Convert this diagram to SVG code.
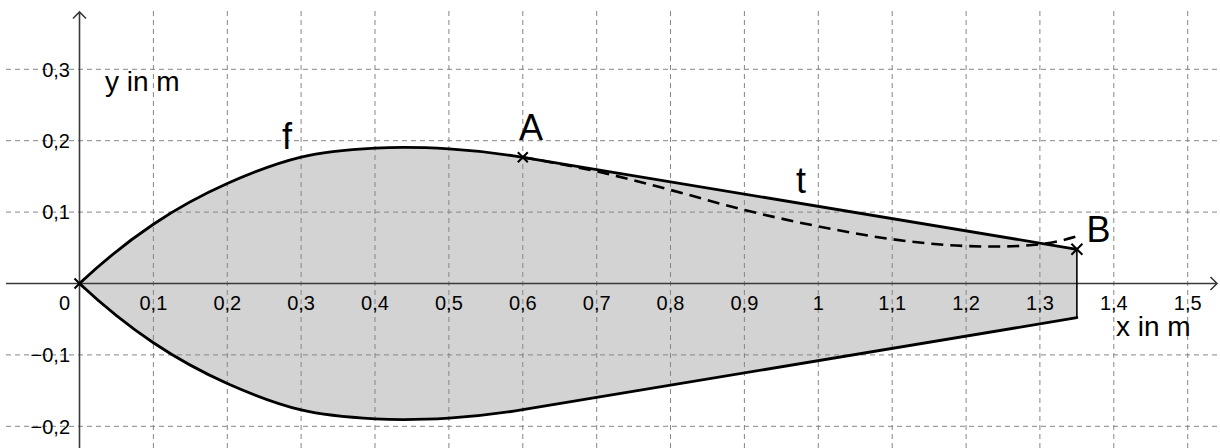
<svg xmlns="http://www.w3.org/2000/svg" width="1220" height="448" viewBox="0 0 1220 448">
<style>
.grid{stroke:#858585;stroke-width:1;stroke-dasharray:5 4;fill:none}
.axis{stroke:#3a3a3a;stroke-width:1.6;fill:none}
.curve{stroke:#000;stroke-width:2.8;fill:none;stroke-linejoin:round;stroke-linecap:round}
.dash{stroke:#000;stroke-width:2.6;fill:none;stroke-dasharray:12 7}
.mark{stroke:#000;stroke-width:2;fill:none}
.tick{font-family:"Liberation Sans",Arial,sans-serif;font-size:20px;fill:#000}
.unit{font-family:"Liberation Sans",Arial,sans-serif;font-size:28px;fill:#000}
.big{font-family:"Liberation Sans",Arial,sans-serif;font-size:36px;fill:#000}
</style>
<rect width="1220" height="448" fill="#fff"/>
<g id="region">
<path fill="#d3d3d3" stroke="none" d="M79.5,283.5 C104.13,260.41 128.75,240.73 153.38,224.24 C178.01,207.75 202.63,194.49 227.26,183.54 C251.89,172.59 276.51,163.01 301.14,157.12 C325.77,151.23 350.39,149.57 375.02,148.2 C399.65,146.83 424.27,147.42 448.9,148.91 C473.53,150.4 498.15,153.26 522.78,157.34 L1076.88,249.3 L1076.88,317.7 L522.78,409.66 C498.15,413.74 473.53,416.6 448.9,418.09 C424.27,419.58 399.65,420.17 375.02,418.8 C350.39,417.43 325.77,415.77 301.14,409.88 C276.51,403.99 251.89,394.41 227.26,383.46 C202.63,372.51 178.01,359.25 153.38,342.76 C128.75,326.27 104.13,306.59 79.5,283.5 Z"/>
</g>
<g id="grid" class="grid">
<path d="M153.4,11V448M227.3,11V448M301.1,11V448M375,11V448M448.9,11V448M522.8,11V448M596.7,11V448M670.5,11V448M744.4,11V448M818.3,11V448M892.2,11V448M966.1,11V448M1039.9,11V448M1113.8,11V448M1187.7,11V448"/>
<path d="M6,69.3H1220M6,140.7H1220M6,212.1H1220M6,354.9H1220M6,426.3H1220"/>
</g>
<g id="axes" class="axis">
<path d="M79.5,448V12M73,18.5L79.5,12L86,18.5"/>
<path d="M6,283.5H1217M1210.5,277L1217,283.5L1210.5,290"/>
</g>
<g id="tick-labels" class="tick">
<text x="70" y="310" text-anchor="end">0</text>
<text x="153.4" y="310" text-anchor="middle">0,1</text>
<text x="227.3" y="310" text-anchor="middle">0,2</text>
<text x="301.1" y="310" text-anchor="middle">0,3</text>
<text x="375" y="310" text-anchor="middle">0,4</text>
<text x="448.9" y="310" text-anchor="middle">0,5</text>
<text x="522.8" y="310" text-anchor="middle">0,6</text>
<text x="596.7" y="310" text-anchor="middle">0,7</text>
<text x="670.5" y="310" text-anchor="middle">0,8</text>
<text x="744.4" y="310" text-anchor="middle">0,9</text>
<text x="818.3" y="310" text-anchor="middle">1</text>
<text x="892.2" y="310" text-anchor="middle">1,1</text>
<text x="966.1" y="310" text-anchor="middle">1,2</text>
<text x="1039.9" y="310" text-anchor="middle">1,3</text>
<text x="1113.8" y="310" text-anchor="middle">1,4</text>
<text x="1187.7" y="310" text-anchor="middle">1,5</text>
<text x="70" y="76.5" text-anchor="end">0,3</text>
<text x="70" y="147.9" text-anchor="end">0,2</text>
<text x="70" y="219.3" text-anchor="end">0,1</text>
<text x="70" y="362.1" text-anchor="end">−0,1</text>
<text x="70" y="433.5" text-anchor="end">−0,2</text>
</g>
<g id="connectors">
<path id="f-upper" class="curve" d="M79.5,283.5 C104.13,260.41 128.75,240.73 153.38,224.24 C178.01,207.75 202.63,194.49 227.26,183.54 C251.89,172.59 276.51,163.01 301.14,157.12 C325.77,151.23 350.39,149.57 375.02,148.2 C399.65,146.83 424.27,147.42 448.9,148.91 C473.53,150.4 498.15,153.26 522.78,157.34"/>
<path id="f-lower" class="curve" d="M79.5,283.5 C104.13,306.59 128.75,326.27 153.38,342.76 C178.01,359.25 202.63,372.51 227.26,383.46 C251.89,394.41 276.51,403.99 301.14,409.88 C325.77,415.77 350.39,417.43 375.02,418.8 C399.65,420.17 424.27,419.58 448.9,418.09 C473.53,416.6 498.15,413.74 522.78,409.66 L1076.88,317.7"/>
<path id="t" class="curve" d="M522.78,157.34 L1076.88,249.3"/>
<path id="edge" stroke="#000" stroke-width="1.6" fill="none" d="M1076.88,249.3 V317.7"/>
<path id="f-dashed" class="dash" d="M522.78,157.34 C547.41,161.42 572.03,165.96 596.66,171.4 C621.29,176.84 645.91,183.54 670.54,189.97 C695.17,196.4 719.79,203.89 744.42,209.96 C769.05,216.03 793.67,221.5 818.3,226.38 C842.93,231.26 867.55,235.96 892.18,239.23 C916.81,242.5 941.43,245.18 966.06,246.01 C990.69,246.84 1015.31,247.09 1039.94,244.23 C1052.25,242.8 1064.57,239.95 1076.88,236.38"/>
</g>
<g id="point-O" class="mark"><path d="M74.5,278.5L84.5,288.5M84.5,278.5L74.5,288.5"/></g>
<g id="point-A"><path class="mark" d="M517.8,152.3L527.8,162.3M527.8,152.3L517.8,162.3"/><text class="big" x="519" y="140">A</text></g>
<g id="point-B"><path class="mark" d="M1071.4,243.8L1082.4,254.8M1082.4,243.8L1071.4,254.8"/><text class="big" x="1086.5" y="241.7">B</text></g>
<g id="label-f"><text class="big" x="282" y="148.5">f</text></g>
<g id="label-t"><text class="big" x="796" y="193">t</text></g>
<g id="label-y"><text class="unit" x="105" y="91">y in m</text></g>
<g id="label-x"><text class="unit" x="1116" y="336">x in m</text></g>
</svg>
